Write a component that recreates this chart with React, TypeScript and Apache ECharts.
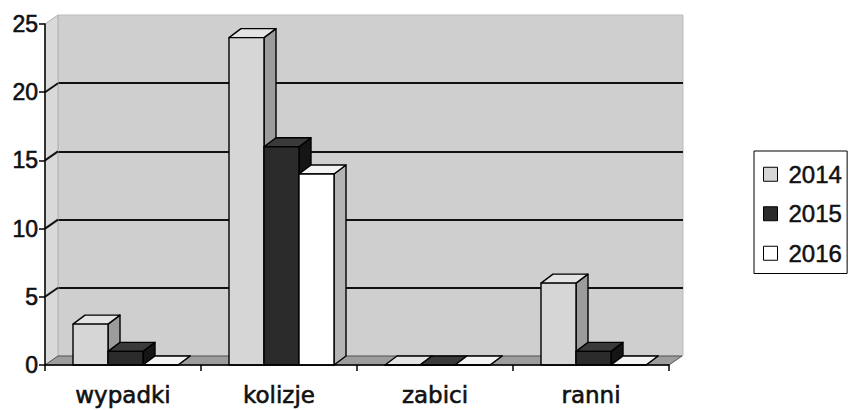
import React, { useEffect, useRef } from "react";
import * as echarts from "echarts";

const categories = ["wypadki", "kolizje", "zabici", "ranni"];
const seriesNames = ["2014", "2015", "2016"];
const values2014 = [3, 24, 0, 6];
const values2015 = [1, 16, 0, 1];
const values2016 = [0, 14, 0, 0];
const yTicks = [0, 5, 10, 15, 20, 25];

const seriesValues = [values2014, values2015, values2016];
const frontColors = ["#d6d6d6", "#2b2b2b", "#ffffff"];
const topColors = ["#e4e4e4", "#3a3a3a", "#f4f4f4"];
const sideColors = ["#9c9c9c", "#151515", "#b4b4b4"];

const WALL_DX = 13;
const WALL_DY = -9;
const BAR_DX = 12;
const BAR_DY = -9;
const BAR_FRAC = 35 / 156;
const BAR_START = -50 / 156;

export default function App() {
  const ref = useRef<HTMLDivElement>(null);
  useEffect(() => {
    if (!ref.current) return;
    const chart = echarts.init(ref.current, null, { renderer: "svg" });

    const barSeries = seriesValues.map((vals, si) => ({
      type: "custom",
      name: seriesNames[si],
      xAxisIndex: 0,
      yAxisIndex: 0,
      z: 10,
      itemStyle: { color: frontColors[si], borderColor: "#000", borderWidth: 1 },
      data: vals.map((v, i) => [i, v]),
      encode: { x: 0, y: 1 },
      renderItem: (params: any, api: any) => {
        const ci = api.value(0);
        const v = api.value(1);
        const base = api.coord([ci, 0]);
        const top = api.coord([ci, v]);
        const band = api.size([1, 0])[0];
        const w = band * BAR_FRAC;
        const x0 = base[0] + band * BAR_START + si * w;
        const x1 = x0 + w;
        const yb = base[1];
        const yt = top[1];
        const stroke = { stroke: "#000", lineWidth: 1.4, lineJoin: "round" };
        return {
          type: "group",
          children: [
            {
              type: "polygon",
              shape: {
                points: [
                  [x1, yt],
                  [x1 + BAR_DX, yt + BAR_DY],
                  [x1 + BAR_DX, yb + BAR_DY],
                  [x1, yb],
                ],
              },
              style: { fill: sideColors[si], ...stroke },
            },
            {
              type: "polygon",
              shape: {
                points: [
                  [x0, yt],
                  [x0 + BAR_DX, yt + BAR_DY],
                  [x1 + BAR_DX, yt + BAR_DY],
                  [x1, yt],
                ],
              },
              style: { fill: topColors[si], ...stroke },
            },
            {
              type: "rect",
              shape: { x: x0, y: yt, width: w, height: yb - yt },
              style: { fill: frontColors[si], ...stroke },
            },
          ],
        };
      },
    }));

    const option: any = {
      animation: false,
      backgroundColor: "#ffffff",
      grid: [
        { left: 45, right: 184, top: 24, bottom: 45, show: false },
        {
          left: 45 + WALL_DX,
          right: 184 - WALL_DX - 1,
          top: 24 + WALL_DY,
          bottom: 45 - WALL_DY,
          show: true,
          backgroundColor: "#cfcfcf",
          borderColor: "#bdbdbd",
          borderWidth: 1,
        },
      ],
      xAxis: [
        {
          type: "category",
          gridIndex: 0,
          data: categories,
          boundaryGap: true,
          axisLine: { show: true, lineStyle: { color: "#000", width: 1.5 } },
          axisTick: { show: true, length: 6, lineStyle: { color: "#000", width: 1.5 } },
          axisLabel: {
            color: "#111",
            fontFamily: "DejaVu Sans",
            fontSize: 23,
            margin: 18,
            textBorderColor: "#111",
            textBorderWidth: 0.6,
          },
          z: 20,
        },
        {
          type: "category",
          gridIndex: 1,
          data: categories,
          show: false,
        },
      ],
      yAxis: [
        {
          type: "value",
          gridIndex: 0,
          min: 0,
          max: 25,
          interval: 5,
          axisLine: { show: true, lineStyle: { color: "#000", width: 1.5 } },
          axisTick: { show: true, length: 6, lineStyle: { color: "#000", width: 1.5 } },
          axisLabel: {
            color: "#111",
            fontFamily: "Liberation Sans",
            fontSize: 23,
            margin: 7,
            textBorderColor: "#111",
            textBorderWidth: 0.6,
          },
          splitLine: { show: false },
          z: 20,
        },
        {
          type: "value",
          gridIndex: 1,
          min: 0,
          max: 25,
          interval: 5,
          axisLine: { show: false },
          axisTick: { show: false },
          axisLabel: { show: false },
          splitLine: {
            show: true,
            lineStyle: {
              color: ["transparent", "#111", "#111", "#111", "#111", "transparent"],
              width: 2,
            },
          },
        },
      ],
      legend: {
        orient: "vertical",
        left: 754,
        top: 151,
        itemWidth: 14,
        itemHeight: 14,
        itemGap: 15,
        icon: "rect",
        borderColor: "#000",
        borderWidth: 1,
        padding: [11, 5, 8, 9],
        textStyle: {
          fontFamily: "Liberation Sans",
          fontSize: 24,
          lineHeight: 24,
          color: "#111",
          padding: [0, 0, 0, 6],
          textBorderColor: "#111",
          textBorderWidth: 0.5,
        },
        data: seriesNames.map((n, i) => ({
          name: n,
          itemStyle: { color: frontColors[i], borderColor: "#000", borderWidth: 1 },
        })),
      },
      series: [
        {
          type: "custom",
          name: "walls",
          xAxisIndex: 0,
          yAxisIndex: 0,
          z: 2,
          silent: true,
          data: [[0, 0]],
          renderItem: (params: any, api: any) => {
            const cs = params.coordSys;
            const y0 = api.coord([0, 0])[1];
            const y25 = api.coord([0, 25])[1];
            const xl = cs.x;
            const xr = cs.x + cs.width;
            return {
              type: "group",
              children: [
                {
                  type: "polygon",
                  shape: {
                    points: [
                      [xl, y25],
                      [xl + WALL_DX, y25 + WALL_DY],
                      [xl + WALL_DX, y0 + WALL_DY],
                      [xl, y0],
                    ],
                  },
                  style: { fill: "#d9d9d9", stroke: "#b0b0b0", lineWidth: 1 },
                },
                {
                  type: "polygon",
                  shape: {
                    points: [
                      [xl, y0],
                      [xl + WALL_DX, y0 + WALL_DY],
                      [xr + WALL_DX, y0 + WALL_DY],
                      [xr, y0],
                    ],
                  },
                  style: { fill: "#9d9d9d", stroke: "#555", lineWidth: 1 },
                },
              ],
            };
          },
        },
        {
          type: "custom",
          name: "sideTicks",
          xAxisIndex: 0,
          yAxisIndex: 0,
          z: 3,
          silent: true,
          data: yTicks.slice(1, 5).map((v) => [0, v]),
          renderItem: (params: any, api: any) => {
            const cs = params.coordSys;
            const y = api.coord([0, api.value(1)])[1];
            return {
              type: "line",
              shape: { x1: cs.x, y1: y, x2: cs.x + WALL_DX, y2: y + WALL_DY },
              style: { stroke: "#111", lineWidth: 2 },
            };
          },
        },
        ...barSeries,
      ],
    };
    chart.setOption(option);
    return () => chart.dispose();
  }, []);

  return (
    <div
      ref={ref}
      style={{ position: "fixed", left: 0, top: 0, width: 853, height: 410 }}
    />
  );
}
